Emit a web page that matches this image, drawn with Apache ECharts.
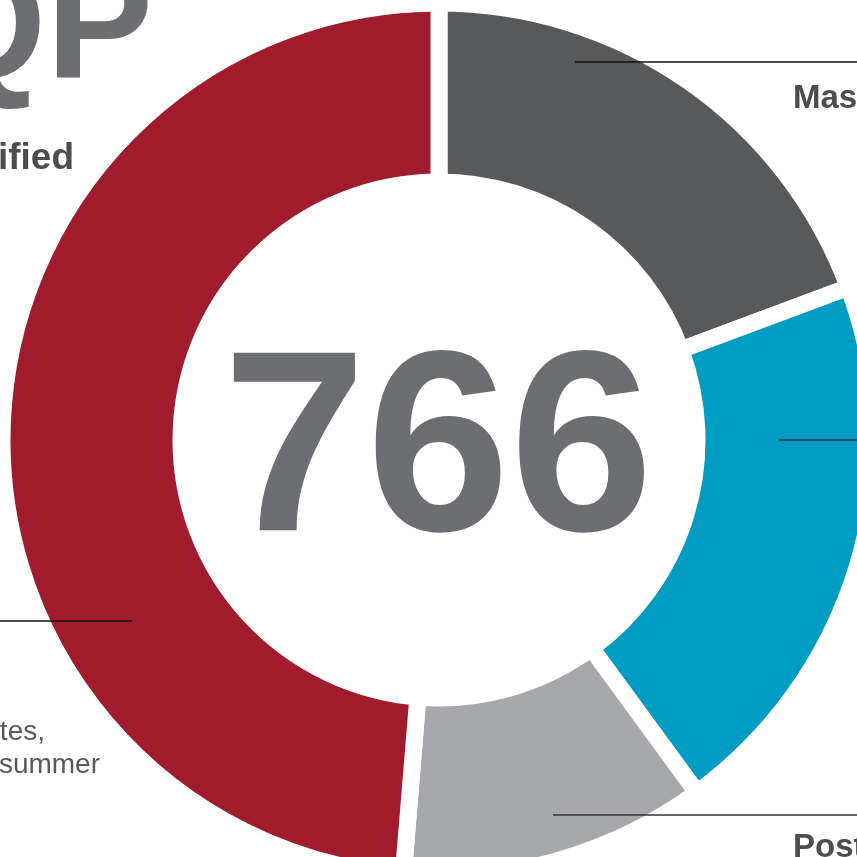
<!DOCTYPE html>
<html>
<head>
<meta charset="utf-8">
<script src="https://cdn.jsdelivr.net/npm/echarts@6/dist/echarts.min.js"></script>
<style>
  html, body { margin: 0; padding: 0; background: #fff; }
  #chart { width: 857px; height: 857px; }
</style>
</head>
<body>
<div id="chart"></div>
<script>
// segments, clockwise from 12 o'clock
const categories = ["Master's", "Doctoral", "Postdocs", "Undergraduates"];
const counts = [148, 158, 87, 373];
const colors = ["#58595b", "#009cc2", "#a7a8ab", "#a01c2c"];

const total = counts.reduce((a, b) => a + b, 0);

const chart = echarts.init(document.getElementById("chart"));

const font = "'Liberation Sans', Arial, sans-serif";

// leader lines (annotation only)
const line = (x1, y1, x2, y2, c) => ({
  type: "line",
  shape: { x1, y1, x2, y2 },
  style: { stroke: c, lineWidth: 1.5 },
  z: 100,
});

const option = {
  animation: false,
  series: [
    {
      type: "pie",
      center: [439, 440],
      radius: [258, 437],
      startAngle: 90,
      clockwise: true,
      silent: true,
      label: { show: false },
      labelLine: { show: false },
      itemStyle: { borderColor: "#fff", borderWidth: 17 },
      data: categories.map((name, i) => ({
        name,
        value: counts[i],
        itemStyle: { color: colors[i] },
      })),
    },
  ],
  graphic: [
    {
      type: "text",
      x: 438,
      y: 588,
      style: {
        text: String(total),
        font: "bold 258px " + font,
        fill: "#6d6e71",
        textAlign: "center",
        textVerticalAlign: "bottom",
      },
      z: 100,
    },
    {
      type: "text",
      x: 153,
      y: 114,
      style: {
        text: "QP",
        font: "bold 160px " + font,
        fill: "#6d6e71",
        textAlign: "right",
        textVerticalAlign: "bottom",
      },
    },
    {
      type: "text",
      x: 74,
      y: 177,
      style: {
        text: "Qualified",
        font: "bold 37px " + font,
        fill: "#4d4d4f",
        textAlign: "right",
        textVerticalAlign: "bottom",
      },
    },
    {
      type: "text",
      x: 45,
      y: 746,
      style: {
        text: "undergraduates,",
        font: "28px " + font,
        fill: "#58595b",
        textAlign: "right",
        textVerticalAlign: "bottom",
      },
    },
    {
      type: "text",
      x: 100,
      y: 779,
      style: {
        text: "summer",
        font: "28px " + font,
        fill: "#58595b",
        textAlign: "right",
        textVerticalAlign: "bottom",
      },
    },
    {
      type: "text",
      x: 793,
      y: 115,
      style: {
        text: categories[0],
        font: "bold 33px " + font,
        fill: "#4d4d4f",
        textAlign: "left",
        textVerticalAlign: "bottom",
      },
    },
    {
      type: "text",
      x: 793,
      y: 864,
      style: {
        text: categories[2],
        font: "bold 33px " + font,
        fill: "#4d4d4f",
        textAlign: "left",
        textVerticalAlign: "bottom",
      },
    },
    line(575, 62, 857, 62, "#111"),
    line(779, 440, 857, 440, "#0b3a4a"),
    line(553, 815, 857, 815, "#333"),
    line(0, 621, 132, 621, "#111"),
  ],
};

chart.setOption(option);
</script>
</body>
</html>
